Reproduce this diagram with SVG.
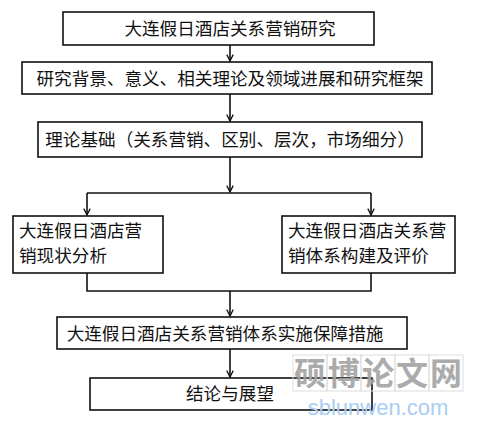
<svg xmlns="http://www.w3.org/2000/svg" width="481" height="425" viewBox="0 0 481 425">
<style>
.box{fill:#fff;stroke:#111;stroke-width:1.6}
.t{font-family:"Noto Sans CJK SC","Noto Sans",sans-serif;font-size:17.6px;fill:#111}
.c{text-anchor:middle}
.ln{fill:none;stroke:#111;stroke-width:1.6}
.wm{font-family:"Noto Sans CJK SC",sans-serif;font-size:32px;fill:#a3a3a3;text-anchor:middle;font-weight:bold;opacity:0.9}
.wu{font-family:"Liberation Sans",Arial,sans-serif;font-size:22px;fill:#a9cdf2;text-anchor:middle}
.g{fill:none;stroke:#ddd;stroke-width:1}
</style>
<defs>
<marker id="ar" viewBox="0 0 10 10" refX="9" refY="5" markerWidth="8" markerHeight="8" markerUnits="userSpaceOnUse" orient="auto">
<path d="M1,1 L9,5 L1,9" fill="none" stroke="#111" stroke-width="1.6"/>
</marker>
</defs>
<rect width="481" height="425" fill="#fff"/>
<g id="connectors">
<line class="ln" x1="230" y1="45" x2="230" y2="61" marker-end="url(#ar)"/>
<line class="ln" x1="230" y1="94" x2="230" y2="121" marker-end="url(#ar)"/>
<line class="ln" x1="230" y1="157" x2="230" y2="192" marker-end="url(#ar)"/>
<line class="ln" x1="87" y1="193" x2="371" y2="193"/>
<line class="ln" x1="87" y1="193" x2="87" y2="215" marker-end="url(#ar)"/>
<line class="ln" x1="371" y1="193" x2="371" y2="215" marker-end="url(#ar)"/>
<polyline class="ln" points="87,273 87,291 371,291 371,273"/>
<line class="ln" x1="230" y1="291" x2="230" y2="316" marker-end="url(#ar)"/>
<line class="ln" x1="230" y1="349" x2="230" y2="377" marker-end="url(#ar)"/>
</g>
<g id="n1"><rect class="box" x="63" y="12" width="311" height="33"/><text class="t c" x="230" y="35">大连假日酒店关系营销研究</text></g>
<g id="n2"><rect class="box" x="22" y="62" width="410" height="32"/><text class="t c" x="230" y="85">研究背景、意义、相关理论及领域进展和研究框架</text></g>
<g id="n3"><rect class="box" x="38" y="122" width="384" height="35"/><text class="t c" x="230" y="146">理论基础（关系营销、区别、层次，市场细分）</text></g>
<g id="n4"><rect class="box" x="13" y="216" width="150" height="57"/><text class="t" x="19" y="237">大连假日酒店营</text><text class="t" x="19" y="262">销现状分析</text></g>
<g id="n5"><rect class="box" x="282" y="216" width="173" height="57"/><text class="t" x="288" y="237">大连假日酒店关系营</text><text class="t" x="288" y="262">销体系构建及评价</text></g>
<g id="n6"><rect class="box" x="57" y="317" width="350" height="32"/><text class="t c" x="225" y="340">大连假日酒店关系营销体系实施保障措施</text></g>
<g id="n7"><rect class="box" x="90" y="378" width="282" height="32"/><text class="t c" x="230" y="400">结论与展望</text></g>
<g id="watermark">
<rect class="g" x="293" y="355" width="34" height="36"/>
<rect class="g" x="327" y="355" width="34" height="36"/>
<rect class="g" x="361" y="355" width="34" height="36"/>
<rect class="g" x="395" y="355" width="34" height="36"/>
<rect class="g" x="429" y="355" width="34" height="36"/>
<text class="wm" x="310" y="385">硕</text>
<text class="wm" x="344" y="385">博</text>
<text class="wm" x="378" y="385">论</text>
<text class="wm" x="412" y="385">文</text>
<text class="wm" x="446" y="385">网</text>
<text class="wu" x="378" y="415">sblunwen.com</text>
</g>
</svg>
